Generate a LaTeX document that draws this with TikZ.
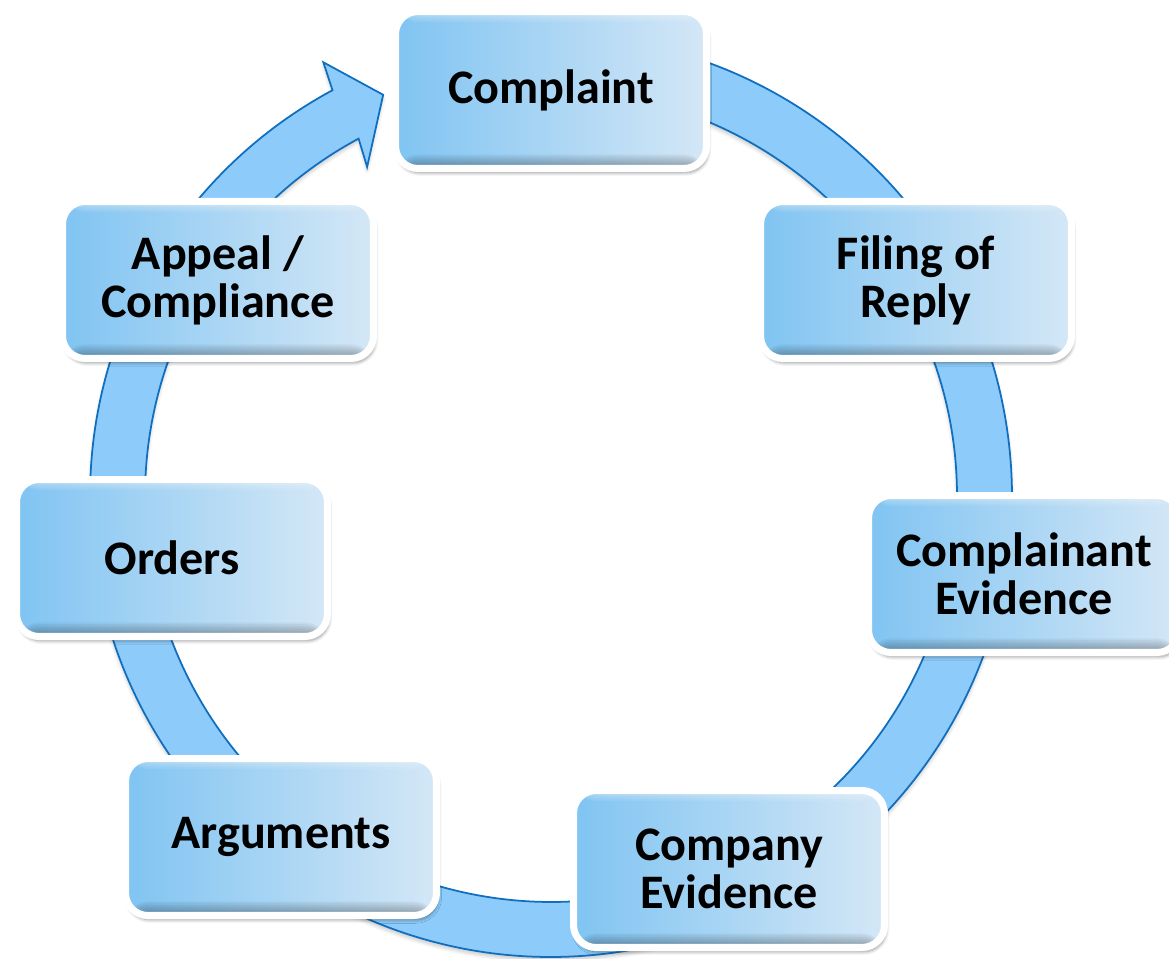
\documentclass[tikz,border=0pt]{standalone}
\usepackage{fontspec}
\setmainfont{Carlito}
\usetikzlibrary{shadows.blur}

\definecolor{ringfill}{RGB}{140,203,250}
\definecolor{ringline}{RGB}{16,110,190}
\definecolor{boxleft}{RGB}{128,196,242}
\definecolor{boxright}{RGB}{212,231,246}

\tikzset{
	stage/.style={rounded corners=0.45cm, draw=white, line width=4pt,
		left color=boxleft, right color=boxright,
		minimum width=6.22cm, minimum height=3.14cm, align=center,
		font=\fontsize{27.4}{27.4}\selectfont\bfseries, text=black,
		blur shadow={shadow xshift=1pt, shadow yshift=-2.5pt, shadow blur steps=6, shadow opacity=40},
		path picture={
			% soft bevel: darker at the bottom, lighter at the top
			\foreach \i in {2,...,8}
				\fill[black, opacity=.045] (path picture bounding box.south west) rectangle ([yshift=\i pt]path picture bounding box.south east);
			\foreach \i in {2,...,6}
				\fill[white, opacity=.08] (path picture bounding box.north west) rectangle ([yshift=-\i pt]path picture bounding box.north east);
		}},
}

\begin{document}
\begin{tikzpicture}[x=0.02cm,y=0.02cm]
	\useasboundingbox (0,0) rectangle (1169,-959);
	% circular arrow behind the boxes
	\begin{scope}[shift={(551,-496)}]
		\fill[ringfill, draw=ringline, line width=1pt, blur shadow={shadow xshift=0pt, shadow yshift=-2pt, shadow opacity=20}]
			(100:9.22cm) arc[start angle=100, end angle=-241.7, radius=9.22cm]
			-- (117.7:9.8cm) -- (112.7:8.7cm) -- (119.2:7.54cm) -- (118.3:8.12cm)
			arc[start angle=-241.7, end angle=100, radius=8.12cm] -- cycle;
	\end{scope}
	\node[stage] (0) at (551,-90) {Complaint};
	\node[stage] (1) at (916,-280) {Filing of\\Reply};
	\node[stage] (2) at (1024,-574) {Complainant\\Evidence};
	\node[stage] (3) at (729,-869) {Company\\Evidence};
	\node[stage] (4) at (281,-837) {Arguments};
	\node[stage] (5) at (172,-558) {Orders};
	\node[stage] (6) at (218,-280) {Appeal /\\Compliance};
\end{tikzpicture}
\end{document}
